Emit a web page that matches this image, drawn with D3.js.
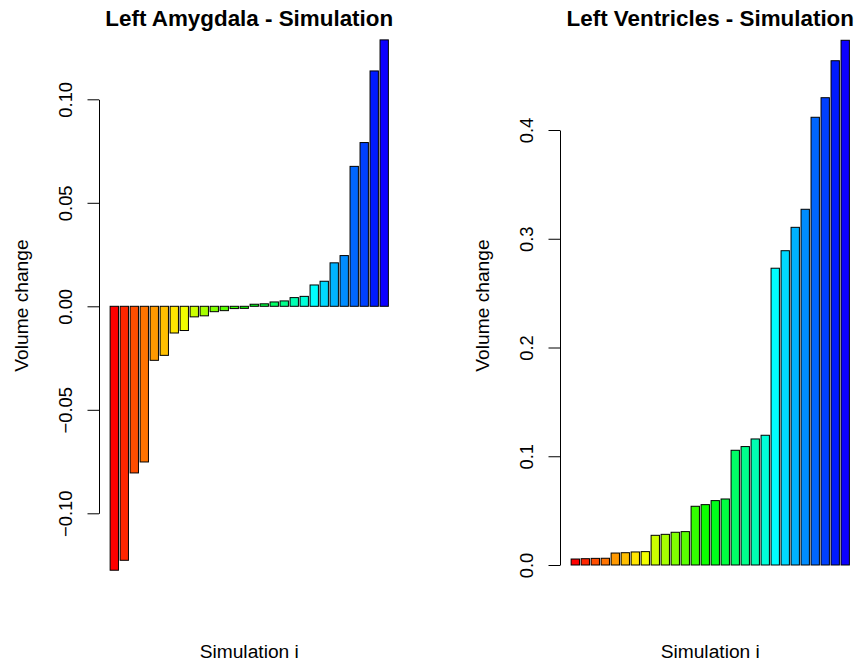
<!DOCTYPE html>
<html>
<head>
<meta charset="utf-8">
<script src="https://cdn.jsdelivr.net/npm/d3@7/dist/d3.min.js"></script>
<style>
  html, body { margin: 0; padding: 0; background: #fff; }
  svg { display: block; font-family: "Liberation Sans", Arial, Helvetica, sans-serif; }
</style>
</head>
<body>
<svg id="chart" width="859" height="662"></svg>
<script>
// ---- Data ----
const simulations = [1,2,3,4,5,6,7,8,9,10,11,12,13,14,15,16,17,18,19,20,21,22,23,24,25,26,27,28];

const amygdalaChange = [-0.1275, -0.1227, -0.0805, -0.0752, -0.0261, -0.0237, -0.0129, -0.0117,
  -0.0051, -0.0046, -0.0026, -0.0021, -0.0011, -0.0010, 0.0010, 0.0012, 0.0021, 0.0026,
  0.0042, 0.0048, 0.0103, 0.0121, 0.0210, 0.0245, 0.0676, 0.0791, 0.1137, 0.1287];

const ventriclesChange = [0.0055, 0.0058, 0.0061, 0.0062, 0.0110, 0.0113, 0.0120, 0.0123,
  0.0273, 0.0282, 0.0301, 0.0307, 0.0540, 0.0555, 0.0592, 0.0607, 0.1055, 0.1089,
  0.1159, 0.1193, 0.2729, 0.2890, 0.3105, 0.3271, 0.4117, 0.4297, 0.4637, 0.4825];

const amygdalaTicks = [-0.10, -0.05, 0.00, 0.05, 0.10];
const ventriclesTicks = [0.0, 0.1, 0.2, 0.3, 0.4];

const titles = ["Left Amygdala - Simulation", "Left Ventricles - Simulation"];
const xLabel = "Simulation i";
const yLabel = "Volume change";

// ---- Layout ----
const svg = d3.select("#chart");
const plotWidth = 300.5;

// rainbow colours (red -> blue) like R's rainbow()
const hue = d3.scaleLinear().domain([0, simulations.length - 1]).range([0, 243]);
const colorOf = i => d3.hsl(hue(i), 1, 0.5).formatHex();

function panel(opts) {
  const g = svg.append("g");
  const n = opts.values.length;
  // barplot coordinates like R: bar i spans [0.2+1.2i, 1.2+1.2i], usr extended by 4%
  const lo = 0.2, hi = 0.2 + 1.2 * n - 0.2;
  const ext = (hi - lo) * 0.04;
  const x = d3.scaleLinear().domain([lo - ext, hi + ext]).range([opts.left, opts.left + plotWidth]);
  const y = d3.scaleLinear().domain(opts.tickDomain).range(opts.tickRange);

  g.selectAll("rect.bar")
    .data(opts.values)
    .join("rect")
    .attr("class", "bar")
    .attr("x", (d, i) => x(0.2 + 1.2 * i))
    .attr("width", (d, i) => x(1.2 + 1.2 * i) - x(0.2 + 1.2 * i))
    .attr("y", d => Math.min(y(d), y(0)))
    .attr("height", d => Math.abs(y(d) - y(0)))
    .attr("fill", (d, i) => colorOf(i))
    .attr("stroke", "#000")
    .attr("stroke-width", 1);

  const axis = d3.axisLeft(y)
    .tickValues(opts.ticks)
    .tickFormat(d3.format(opts.fmt))
    .tickSize(11.5)
    .tickSizeOuter(0);

  const ag = g.append("g")
    .attr("transform", `translate(${opts.left},0)`)
    .call(axis);
  ag.select(".domain").attr("stroke", "#000").attr("stroke-width", 1);
  ag.selectAll(".tick line").attr("stroke", "#000").attr("stroke-width", 1);
  ag.selectAll(".tick text")
    .attr("transform", "rotate(-90)")
    .attr("x", 0)
    .attr("y", -27)
    .attr("dy", 0)
    .attr("text-anchor", "middle")
    .attr("fill", "#000")
    .style("font-size", "18.4px")
    .style("font-family", "'Liberation Sans', Arial, sans-serif");

  const cx = opts.left + plotWidth / 2;
  g.append("text")
    .attr("x", cx).attr("y", 26)
    .attr("text-anchor", "middle")
    .style("font-size", "22.4px")
    .style("font-weight", "bold")
    .text(opts.title);

  g.append("text")
    .attr("x", cx).attr("y", 658)
    .attr("text-anchor", "middle")
    .style("font-size", "19.2px")
    .text(xLabel);

  g.append("text")
    .attr("transform", `translate(${opts.left - 71},${(19 + 592) / 2}) rotate(-90)`)
    .attr("text-anchor", "middle")
    .style("font-size", "19.2px")
    .text(yLabel);
}

panel({
  left: 99, values: amygdalaChange, ticks: amygdalaTicks, fmt: ".2f",
  tickDomain: [-0.10, 0.10], tickRange: [513.3, 99.3], title: titles[0]
});
panel({
  left: 560, values: ventriclesChange, ticks: ventriclesTicks, fmt: ".1f",
  tickDomain: [0.0, 0.4], tickRange: [565, 130], title: titles[1]
});
</script>
</body>
</html>
